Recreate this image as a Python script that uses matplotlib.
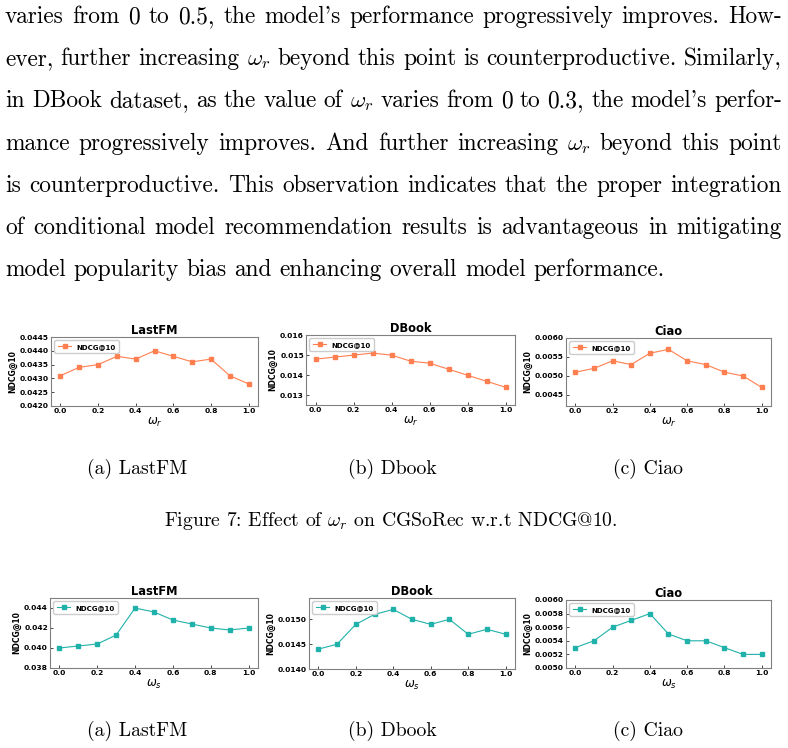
import matplotlib
matplotlib.use("Agg")
import matplotlib.pyplot as plt
from matplotlib.ticker import FormatStrFormatter

W, H = 788, 748

# paragraph text (one entry per printed line)
body_lines = [
    r"varies from 0 to 0.5, the model's performance progressively improves. How-",
    r"ever, further increasing $\omega_r$ beyond this point is counterproductive. Similarly,",
    r"in DBook dataset, as the value of $\omega_r$ varies from 0 to 0.3, the model's perfor-",
    r"mance progressively improves. And further increasing $\omega_r$ beyond this point",
    r"is counterproductive. This observation indicates that the proper integration",
    r"of conditional model recommendation results is advantageous in mitigating",
    r"model popularity bias and enhancing overall model performance.",
]
sub_captions = ["(a) LastFM", "(b) Dbook", "(c) Ciao"]
fig7_caption = r"Figure 7: Effect of $\omega_r$ on CGSoRec w.r.t NDCG@10."

datasets = ["LastFM", "DBook", "Ciao"]
omega = [0.0, 0.1, 0.2, 0.3, 0.4, 0.5, 0.6, 0.7, 0.8, 0.9, 1.0]

# Figure 7: omega_r
r_lastfm = [0.0431, 0.0434, 0.0435, 0.0438, 0.0437, 0.0440, 0.0438, 0.0436, 0.0437, 0.0431, 0.0428]
r_dbook = [0.0148, 0.0149, 0.0150, 0.0151, 0.0150, 0.0147, 0.0146, 0.0143, 0.0140, 0.0137, 0.0134]
r_ciao = [0.0051, 0.0052, 0.0054, 0.0053, 0.0056, 0.0057, 0.0054, 0.0053, 0.0051, 0.0050, 0.0047]

# next figure: omega_s
s_lastfm = [0.0400, 0.0402, 0.0404, 0.0413, 0.0440, 0.0436, 0.0428, 0.0424, 0.0420, 0.0418, 0.0420]
s_dbook = [0.0144, 0.0145, 0.0149, 0.0151, 0.0152, 0.0150, 0.0149, 0.0150, 0.0147, 0.0148, 0.0147]
s_ciao = [0.0053, 0.0054, 0.0056, 0.0057, 0.0058, 0.0055, 0.0054, 0.0054, 0.0053, 0.0052, 0.0052]

body_font = ["cmr10", "DejaVu Serif"]
caption_size = 14.2

fig = plt.figure(figsize=(W / 100, H / 100), dpi=100)
renderer = fig.canvas.get_renderer()


def make_words(line, y, size):
    words = line.split(" ")
    texts = [fig.text(0, 1 - y / H, w, fontsize=size, family=body_font,
                      math_fontfamily="cm", va="baseline") for w in words]
    widths = [t.get_window_extent(renderer).width for t in texts]
    return texts, widths


# pick the body size so the last (ragged) line ends where it does in the page
probe, pw = make_words(body_lines[-1], 0, 12)
natural = sum(pw) + (len(pw) - 1) * 0.333 * 12 * 100 / 72
for t in probe:
    t.remove()
body_size = 12 * (667 - 5) / natural


def put_line(line, y, justify=True, x_left=5, x_right=782):
    texts, widths = make_words(line, y, body_size)
    if justify:
        gap = (x_right - x_left - sum(widths)) / (len(texts) - 1)
    else:
        gap = 0.333 * body_size * 100 / 72
    x = x_left
    for t, w in zip(texts, widths):
        t.set_x(x / W)
        x += w + gap


def put_center(s, xc, y):
    fig.text(xc / W, 1 - y / H, s, fontsize=caption_size, family=body_font,
             math_fontfamily="cm", ha="center", va="baseline")


for i, line in enumerate(body_lines):
    put_line(line, 23 + i * 42.2, justify=(i < len(body_lines) - 1))


def panel(box, y, title, xlab, color, ylim, yticks, fmt):
    x0, y0, x1, y1 = box
    ax = fig.add_axes([x0 / W, 1 - y1 / H, (x1 - x0) / W, (y1 - y0) / H])
    ax.plot(omega, y, marker="s", color=color, lw=0.8, ms=3.2, label="NDCG@10")
    ax.set_ylim(ylim)
    ax.set_yticks(yticks)
    ax.set_xticks([0.0, 0.2, 0.4, 0.6, 0.8, 1.0])
    ax.yaxis.set_major_formatter(FormatStrFormatter(fmt))
    ax.xaxis.set_major_formatter(FormatStrFormatter("%.1f"))
    ax.tick_params(direction="in", length=2, width=0.5, labelsize=5.4, pad=1.5)
    for lbl in ax.get_xticklabels() + ax.get_yticklabels():
        lbl.set_fontweight("bold")
    for sp in ax.spines.values():
        sp.set_color("0.5")
        sp.set_linewidth(0.8)
    ax.set_title(title, fontsize=8.3, fontweight="bold", pad=2.5)
    ax.set_ylabel("NDCG@10", fontsize=5.5, fontweight="bold", labelpad=2)
    ax.set_xlabel(xlab, fontsize=8.5, labelpad=1)
    ax.legend(loc="upper left", prop={"size": 5, "weight": "bold"},
              handlelength=2.0, borderpad=0.45, handletextpad=0.7,
              borderaxespad=0.5, framealpha=1, edgecolor="0.8")
    return ax


orange = "#FF7F50"
teal = "#20B2AA"

panel((51, 337, 258, 406), r_lastfm, datasets[0], r"$\omega_r$", orange,
      (0.0420, 0.0445), [0.0420, 0.0425, 0.0430, 0.0435, 0.0440, 0.0445], "%.4f")
panel((306, 335, 515, 405), r_dbook, datasets[1], r"$\omega_r$", orange,
      (0.01252, 0.0160), [0.013, 0.014, 0.015, 0.016], "%.3f")
panel((566, 338, 771, 406), r_ciao, datasets[2], r"$\omega_r$", orange,
      (0.00421, 0.0060), [0.0045, 0.0050, 0.0055, 0.0060], "%.4f")

panel((50, 598, 258, 668), s_lastfm, datasets[0], r"$\omega_s$", teal,
      (0.038, 0.045), [0.038, 0.040, 0.042, 0.044], "%.3f")
panel((309, 598, 515, 669), s_dbook, datasets[1], r"$\omega_s$", teal,
      (0.0140, 0.01543), [0.0140, 0.0145, 0.0150], "%.4f")
panel((566, 600, 771, 668), s_ciao, datasets[2], r"$\omega_s$", teal,
      (0.0050, 0.0060), [0.0050, 0.0052, 0.0054, 0.0056, 0.0058, 0.0060], "%.4f")

for xc, s in zip([137, 392, 648], sub_captions):
    put_center(s, xc, 474)
    put_center(s, xc, 736)
put_center(fig7_caption, 391, 526)

fig.savefig("out.png", dpi=100)
